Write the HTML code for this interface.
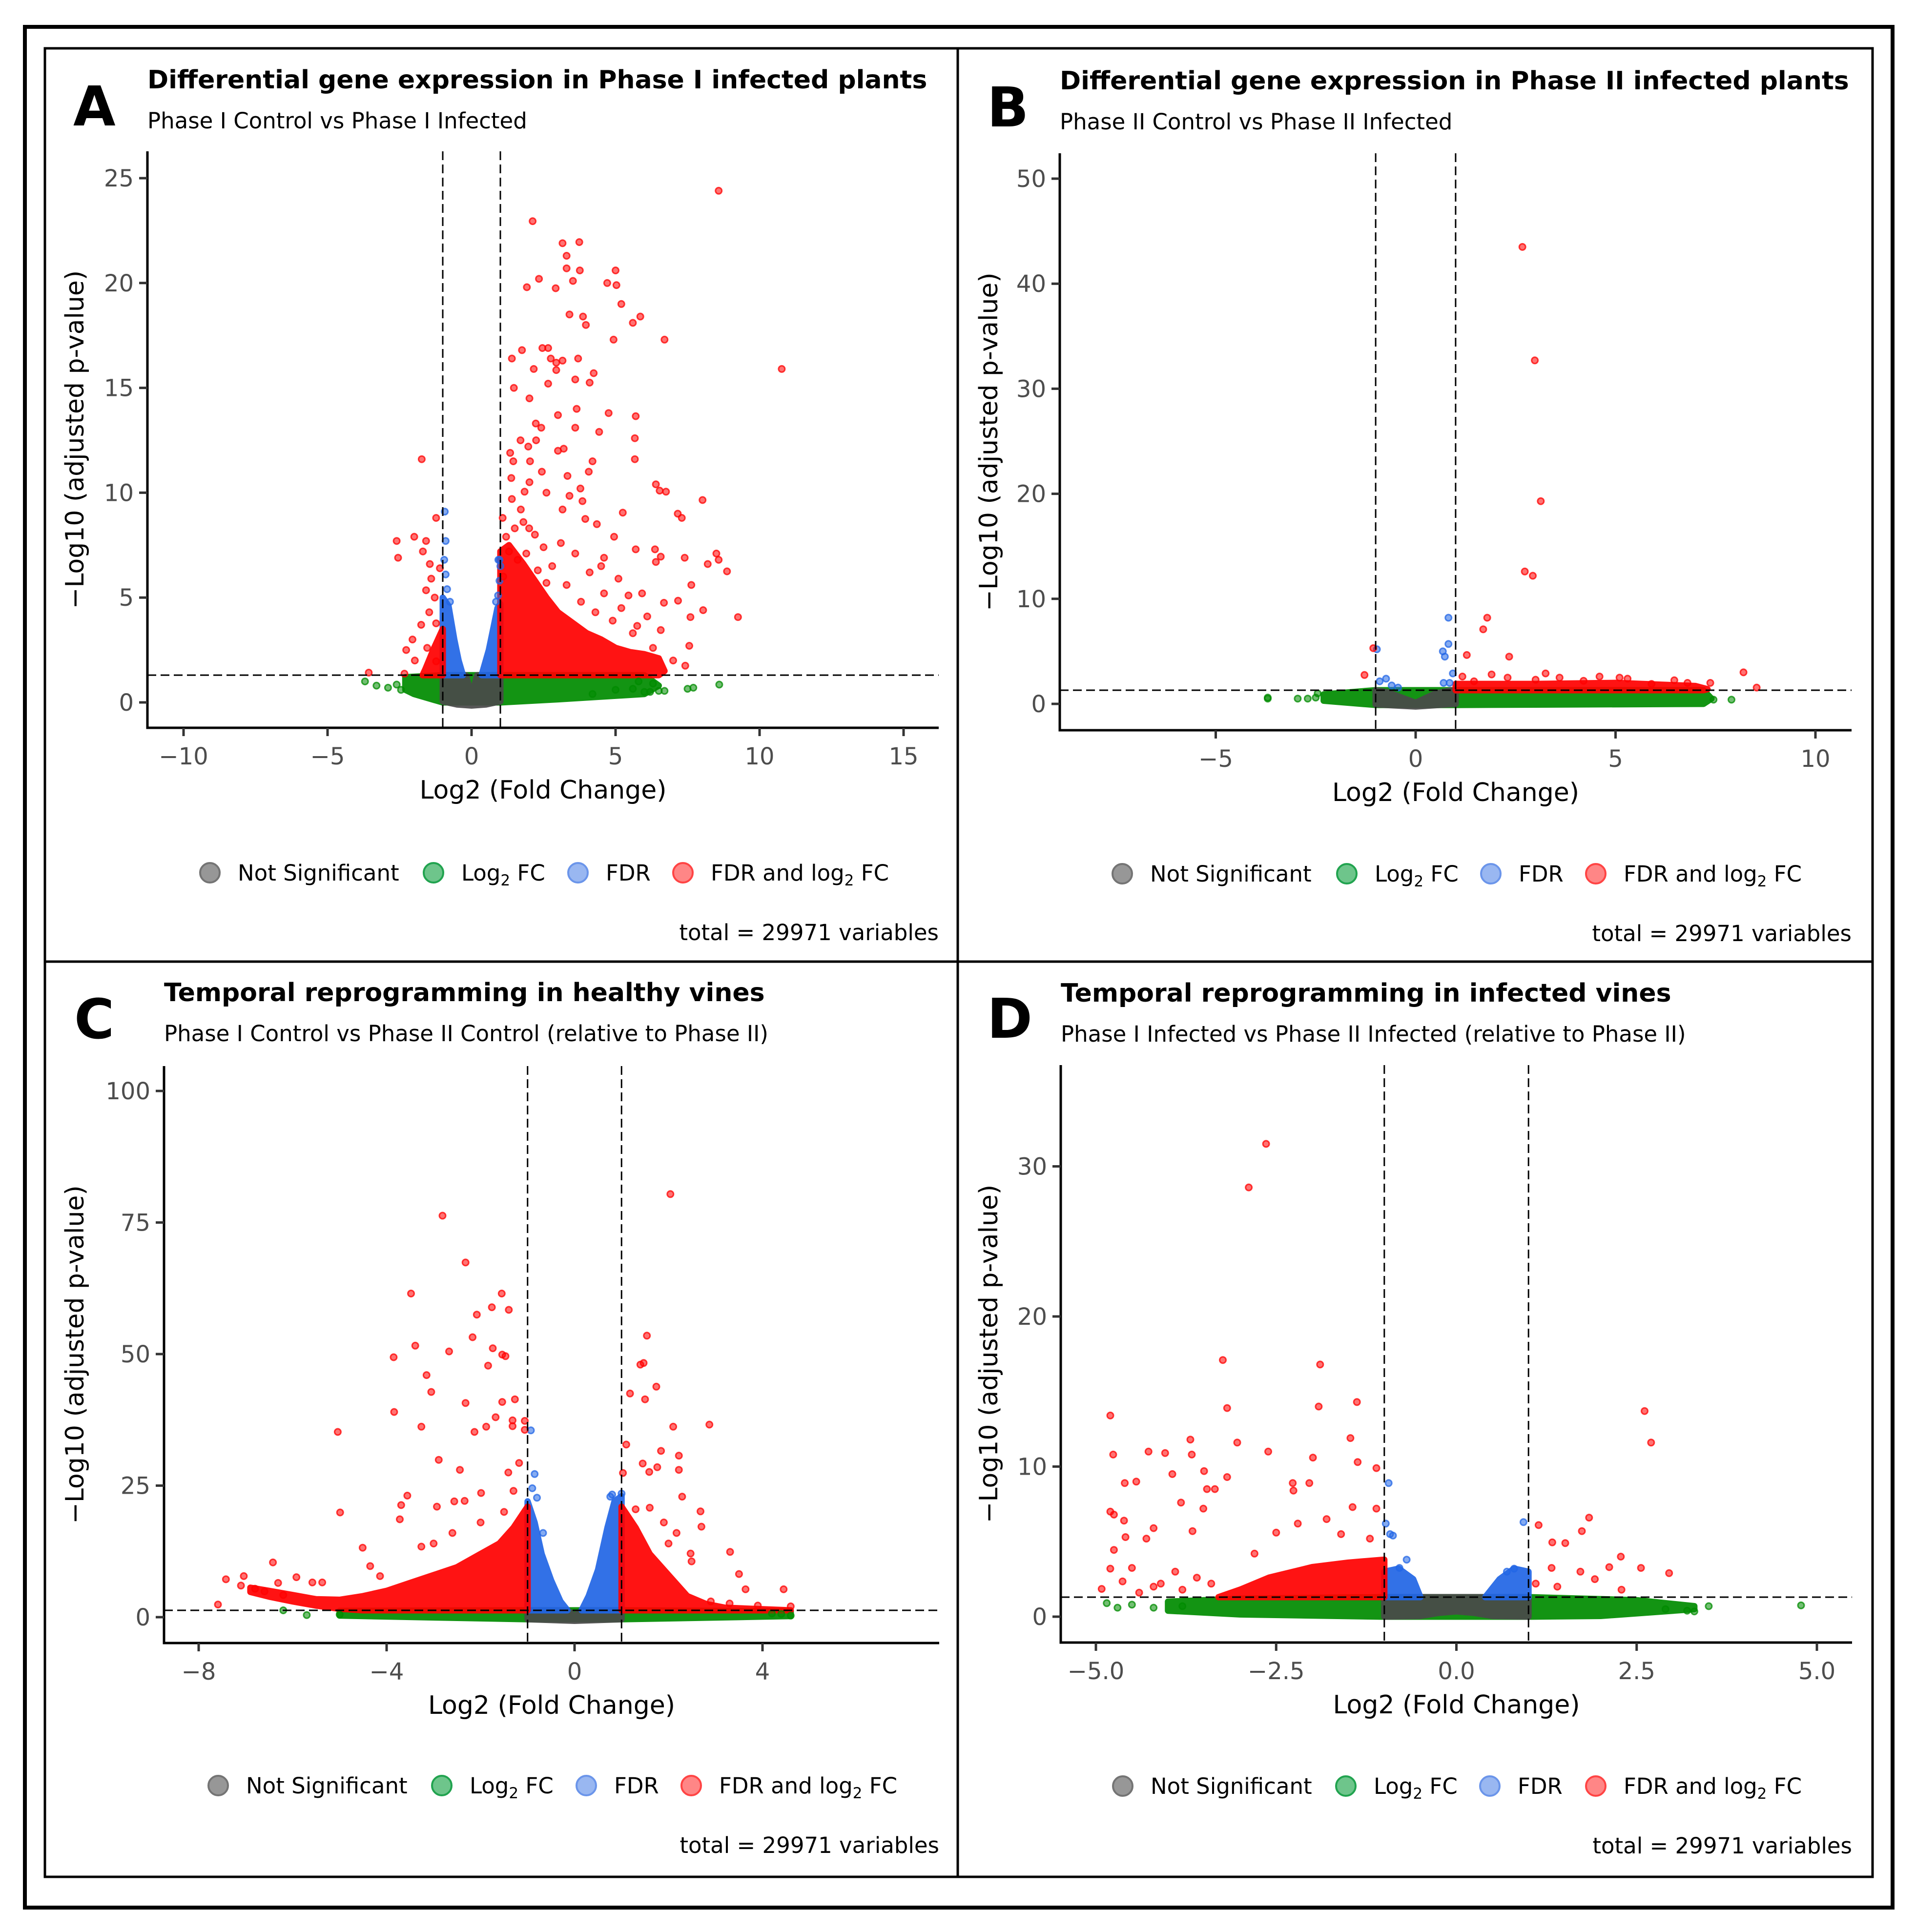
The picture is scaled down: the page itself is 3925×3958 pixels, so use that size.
<!DOCTYPE html>
<html><head><meta charset="utf-8">
<style>
html,body{margin:0;padding:0;background:#fff;}
svg{display:block;font-family:"DejaVu Sans","Liberation Sans",sans-serif;}
</style></head>
<body>
<svg id="fig" width="3925" height="3958" viewBox="0 0 3925 3958" xmlns="http://www.w3.org/2000/svg">
<rect x="0" y="0" width="3925" height="3958" fill="#fff"/>
<rect x="51" y="55" width="3826" height="3853" fill="none" stroke="#000" stroke-width="8"/>
<rect x="92" y="99" width="3744" height="3746" fill="none" stroke="#000" stroke-width="5"/>
<line x1="1962" y1="99" x2="1962" y2="3845" stroke="#000" stroke-width="5"/>
<line x1="92" y1="1970" x2="3836" y2="1970" stroke="#000" stroke-width="5"/>
<g id="root"></g>
</svg>
<script>
// ---------- DATA ----------
// Panel A
const aRed = [[8.58,24.4],[2.12,22.95],[3.16,21.9],[3.74,21.95],[3.3,21.3],[3.3,20.7],[3.76,20.6],[3.52,20.1],[2.34,20.2],[1.92,19.8],[2.92,19.75],[4.71,20],[5,20.6],[5.03,19.9],[5.2,19],[3.4,18.5],[3.87,18.4],[3.97,18],[5.6,18.1],[5.86,18.4],[4.93,17.3],[6.7,17.3],[10.77,15.9],[1.75,16.8],[1.4,16.4],[2.46,16.9],[2.66,16.9],[2.75,16.4],[2.94,16.2],[3.16,16.3],[3.7,16.4],[2.16,15.9],[2.94,15.85],[2.66,15.2],[3.6,15.4],[4.24,15.7],[4.1,15.25],[1.47,15],[2.01,14.5],[3.65,14],[4.76,13.8],[5.7,13.65],[2.23,13.3],[2.42,13.1],[3.6,13.1],[4.43,12.9],[3,13.7],[1.7,12.5],[2.24,12.5],[5.67,12.6],[1.34,11.9],[1.97,12.2],[3.2,12.1],[3,12],[-1.73,11.6],[5.67,11.6],[1.45,11.5],[2.03,11.5],[4.2,11.5],[2.44,11],[3.33,10.8],[4.07,11],[1.38,10.7],[2.01,10.5],[6.4,10.4],[6.53,10.1],[6.75,10.05],[8.02,9.65],[1.84,10.05],[2.6,10],[3.78,10.2],[1.4,9.7],[1.71,9.2],[3.4,9.85],[3.85,9.6],[3.16,9.2],[5.25,9.05],[7.16,9],[7.3,8.8],[-1.23,8.8],[1.08,8.8],[3.95,8.75],[6.57,6.95],[8.5,7.1],[8.58,6.8],[8.87,6.25],[8.2,6.6],[7.4,6.9],[9.25,4.07],[7.63,5.6],[7.6,4.07],[8.04,4.4],[7.56,2.7],[7.42,1.75],[-2.6,7.7],[-2.55,6.9],[-1.99,7.9],[-1.58,7.7],[-1.69,7.2],[-1.45,6.6],[-1.1,6.4],[-1.4,5.9],[-1.58,5.35],[-1.28,5],[-1.47,4.3],[-1.23,3.77],[-1.75,3.7],[-2.05,3],[-2.27,2.5],[-1.97,2],[-1.54,2.6],[-2.33,1.37],[-3.57,1.42],[-1.23,1.96],[4.35,8.5],[2.2,8],[4.95,7.9],[5.7,7.3],[6.37,7.3],[6.4,6.7],[4.6,6.9],[4.5,6.5],[5.1,5.9],[5.45,5.1],[5.92,5.2],[6.68,4.75],[7.17,4.85],[6.1,4.1],[6.57,3.45],[5.75,3.65],[6.3,2.6],[7,2],[3.1,7.6],[3.6,7.1],[2.8,6.5],[4.1,6.2],[3.3,5.6],[4.6,5.2],[5.2,4.5],[5.6,3.3],[4.9,3.9],[2.5,7.4],[1.5,8.3],[1.2,7.9],[1.3,7.2],[1.6,6.8],[1.9,7.1],[2.3,6.3],[2.6,5.7],[3.8,4.8],[4.3,4.3],[1.1,6.0],[1.8,8.6],[2.0,8.3]];
const aBlue = [[-0.93,9.1],[-0.9,7.7],[-0.95,6.8],[-0.9,6.1],[-0.85,5.4],[-0.75,4.8],[0.93,6.8],[0.97,6.8],[1,6.5],[0.97,5.8],[0.92,5.1],[0.85,4.8]];
const aGreen = [[-3.7,1.0],[-3.3,0.8],[-2.9,0.7],[-2.6,0.85],[-2.45,0.6],[6.2,0.5],[6.5,0.55],[6.7,0.55],[7.5,0.65],[7.7,0.7],[8.6,0.85],[4.2,0.4],[5,0.6],[5.6,0.65],[6,0.5],[6.3,0.9],[5.8,1.0]];
const aRedCloud = [[1,1.3],[1,7.2],[1.3,7.5],[1.8,6.6],[2.2,5.8],[2.6,5],[3,4.3],[3.5,3.8],[4,3.3],[4.5,3],[5,2.6],[5.5,2.4],[6,2.3],[6.5,2.1],[6.7,1.5],[6.5,1.3]];
const aRedCloudL = [[-1,1.3],[-1,3.5],[-1.3,2.6],[-1.6,1.6],[-1.7,1.3]];
const aBlueCloud = [[0.35,1.3],[0.6,2.5],[0.75,3.5],[0.9,4.5],[1,4.7],[1,1.3]];
const aBlueCloudL = [[-1,1.3],[-1,5],[-0.8,4.6],[-0.6,3],[-0.45,2],[-0.3,1.3]];
const aGreyCloud = [[-1,1.3],[-0.2,1.3],[0,0.35],[0.2,1.3],[1,1.3],[1,0.05],[0.5,-0.1],[0,-0.15],[-0.5,-0.1],[-1,0.05]];
const aGreenCloud = [[-2.3,1.2],[-1,1.3],[1,1.3],[6,1.3],[6.5,0.8],[6,0.4],[3,0.15],[1,0.0],[-1,0],[-2,0.4],[-2.3,0.6]];

// Panel B
const bRed = [[2.67,43.5],[2.98,32.7],[3.13,19.3],[2.73,12.6],[2.93,12.2],[1.79,8.2],[1.69,7.1],[1.28,4.65],[2.34,4.5],[-1.06,5.3],[-1.28,2.75],[8.2,3],[8.53,1.55],[7.37,2],[3.25,2.9],[3.6,2.5],[4.6,2.6],[5.1,2.5],[6.47,2.25],[6.8,2],[1.9,2.8],[2.3,2.5],[1.17,2.6],[1.46,2.15],[5.3,2.4],[4.2,2.2],[3.0,2.3],[5.9,1.9]];
const bBlue = [[0.82,8.2],[0.82,5.7],[0.68,5],[0.73,4.5],[-0.97,5.2],[0.93,2.9],[-0.74,2.4],[-0.9,2.15],[0.7,2],[0.85,2],[-0.6,1.75],[-0.44,1.55]];
const bGreen = [[-3.7,0.6],[-3.7,0.5],[-2.95,0.5],[-2.7,0.5],[-2.5,0.6],[-2.45,1.0],[7.45,0.4],[7.9,0.4]];
const bRedCloud = [[1,1.3],[1,1.9],[3,1.9],[5,2.0],[7,1.7],[7.3,1.4],[7.2,1.3]];
const bGreyCloud = [[-1,1.3],[-0.7,1.1],[0,0.1],[0.5,1.0],[0.9,1.3],[1,1.3],[1,0],[0,-0.25],[-1,-0.05]];
const bGreenCloud = [[-2.3,0.9],[-1,1.3],[7.2,1.3],[7.4,0.5],[7.2,0.0],[1,-0.1],[-1,-0.1],[-2.3,0.3]];

// Panel C
const cRed = [[2.04,80.4],[-2.81,76.3],[-2.32,67.4],[-3.48,61.5],[-1.55,61.5],[-1.76,58.9],[-1.4,58.4],[-2.08,57.5],[1.54,53.5],[-2.17,53.2],[-3.39,51.6],[-2.67,50.5],[-1.74,51.1],[-1.54,49.9],[-1.47,49.6],[-3.85,49.4],[-1.84,47.8],[1.4,48],[1.47,48.3],[-3.15,46],[1.74,43.8],[-3.05,42.8],[1.18,42.5],[1.5,41.4],[-2.32,40.7],[-1.54,40.9],[-1.27,41.4],[-3.84,39],[-1.68,38],[-1.32,37.4],[-1.06,37.3],[2.1,36.2],[2.87,36.6],[-3.26,36.2],[-1.88,36.2],[-1.32,36.3],[-2.13,35.2],[-5.04,35.2],[-1.06,35.6],[1.1,32.8],[1.84,31.6],[2.22,30.7],[-2.89,29.9],[1.45,29.2],[1.76,28.5],[2.22,28],[1.59,27.6],[-2.44,28],[-1.18,29.3],[-1.41,27.5],[1.03,27.4],[-4.99,19.9],[2.29,22.9],[2.68,20.1],[2.7,17.2],[2.17,16],[3.31,12.4],[3.5,8.2],[3.64,5.3],[4.45,5.3],[4.6,2.05],[2.47,12.1],[2.49,10.6],[-3.56,23.1],[-3.69,21.3],[-4.51,13.2],[-4.35,9.7],[-4.14,7.8],[-6.42,10.4],[-5.92,7.6],[-5.58,6.6],[-5.37,6.6],[-6.31,6.5],[-7.42,7.2],[-7.04,7.8],[-7.1,6],[-7.59,2.4],[-3.72,18.6],[-3.26,13.4],[-2.93,21],[-1.99,23.6],[-2.56,22],[-2.34,22.1],[-6.8,5.4],[-6.6,4.9],[-6.2,4.2],[2.9,3],[3.3,2.6],[3.9,2.2],[-2.0,18],[-1.5,20],[-2.6,16],[-3.0,14],[-1.3,24],[1.3,20.5],[1.6,20.8],[1.9,18],[2.0,14]];
const cBlue = [[-0.93,35.5],[-0.85,27.2],[-0.8,22.7],[0.8,23.3],[0.76,22.9],[1.0,23.5],[-0.67,16],[-0.9,24.5]];
const cGreen = [[-6.2,1.3],[-5.7,0.4],[4.4,0.6],[4.6,0.3],[-5.0,0.5],[4.2,0.7]];
const cRedCloudL = [[-1,1.3],[-1,21],[-1.3,17],[-1.6,14],[-2,12],[-2.5,9.5],[-3,8],[-3.5,6.5],[-4,5],[-4.5,4],[-5,3.3],[-5.5,3.4],[-6,4.2],[-6.5,5],[-6.9,5.6],[-6.9,4.8],[-6.5,3.9],[-6,3],[-5.5,2.2],[-5,1.6],[-4.5,1.3]];
const cRedCloudR = [[1,1.3],[1,21],[1.3,17],[1.6,12],[2,8],[2.4,4],[2.8,2.5],[3.2,1.8],[4,1.5],[4.6,1.3]];
const cBlueCloudL = [[-1,1.3],[-1,22],[-0.85,18],[-0.7,12],[-0.5,7],[-0.3,3],[-0.15,1.3]];
const cBlueCloudR = [[0.15,1.3],[0.3,4],[0.5,9],[0.7,17],[0.85,22],[1,23],[1,1.3]];
const cGreyCloud = [[-1,1.3],[-0.15,1.3],[0,0.2],[0.15,1.3],[1,1.3],[1,-0.4],[0,-0.7],[-1,-0.4]];
const cGreenCloud = [[-5,1.2],[-1,1.3],[1,1.3],[4.6,1.1],[4.6,0.2],[1,-0.4],[-1,-0.4],[-5,0.3]];

// Panel D
const dRed = [[-2.64,31.5],[-2.88,28.6],[-3.24,17.1],[-1.89,16.8],[-1.91,14],[-1.38,14.3],[-3.18,13.9],[-4.8,13.4],[2.61,13.7],[2.7,11.6],[-3.69,11.8],[-3.04,11.6],[-1.47,11.9],[-4.27,11],[-4.04,10.9],[-3.67,10.8],[-4.76,10.8],[-2.61,11],[-1.99,10.6],[-1.37,10.3],[-1.11,9.9],[-3.94,9.5],[-3.5,9.7],[-3.18,9.3],[-4.6,8.9],[-4.44,9],[-2.27,8.9],[-2.04,8.9],[-2.26,8.4],[-3.46,8.5],[-3.35,8.5],[-3.82,7.6],[-3.51,7.2],[-1.44,7.3],[-1.11,7.2],[-4.8,7],[-4.75,6.8],[-4.61,6.4],[-4.2,5.9],[-3.66,5.7],[-4.59,5.3],[-4.3,5.2],[1.74,5.7],[1.84,6.6],[1.14,6.1],[1.33,4.95],[1.51,4.9],[2.28,4],[2.12,3.3],[2.56,3.25],[2.95,2.9],[2.29,1.8],[1.92,2.5],[1.72,3],[1.32,3.25],[-4.75,4.45],[-4.8,3.2],[-4.5,3.25],[-4.92,1.85],[-4.63,2.35],[-2.5,5.6],[-2.2,6.2],[-1.8,6.5],[-1.6,5.5],[-2.8,4.2],[-3.9,3.0],[-4.1,2.2],[-3.6,2.6],[-1.2,5.2],[1.1,2.2],[1.4,2.0],[-4.2,2.0],[-3.8,1.8],[-3.4,2.2],[-4.4,1.6]];
const dBlue = [[-0.94,8.9],[-0.98,6.2],[-0.92,5.5],[-0.88,5.4],[0.93,6.3],[-0.69,3.8],[-0.79,3.25],[0.8,3.2],[0.7,3.0]];
const dGreen = [[4.78,0.75],[3.5,0.7],[3.3,0.35],[3.2,0.4],[-4.85,0.9],[-4.7,0.6],[2.9,0.5],[-4.5,0.8],[-4.2,0.6],[-3.8,0.7]];
const dRedCloud = [[-3.3,1.3],[-3,1.8],[-2.6,2.6],[-2,3.3],[-1.5,3.6],[-1,3.8],[-1,1.3]];
const dBlueCloudL = [[-1,1.3],[-1,3],[-0.8,3.2],[-0.6,2.5],[-0.5,1.3]];
const dBlueCloudR = [[0.4,1.3],[0.6,2.5],[0.8,3.2],[1,3],[1,1.3]];
const dGreyCloud = [[-1,1.3],[1,1.3],[1,0],[0.5,0.05],[0.25,0.25],[0,0.35],[-0.25,0.25],[-0.5,0.05],[-1,0]];
const dGreenCloud = [[-4.0,1.0],[-3,1.2],[-1,1.3],[1,1.3],[2.5,1.1],[3.3,0.7],[3.3,0.5],[2,0.05],[1,0],[-1,0],[-3,0.15],[-4.0,0.4]];

// tick arrays
const aXTicks = [-10,-5,0,5,10,15];
const aYTicks = [0,5,10,15,20,25];
const bXTicks = [-5,0,5,10];
const bYTicks = [0,10,20,30,40,50];
const cXTicks = [-8,-4,0,4];
const cYTicks = [0,25,50,75,100];
const dXTicks = [-5.0,-2.5,0.0,2.5,5.0];
const dYTicks = [0,10,20,30];
const dXTickLabels = ["\u22125.0","\u22122.5","0.0","2.5","5.0"];

// ---------- RENDER ----------
const NS = "http://www.w3.org/2000/svg";
const root = document.getElementById('root');
const COL = {grey:'#4a4a4a', green:'#008b00', blue:'#2166e6', red:'#ff0000'};
function mk(tag, attrs, parent){const e=document.createElementNS(NS,tag);for(const k in attrs)e.setAttribute(k,attrs[k]);(parent||root).appendChild(e);return e;}
function fmt(v){return v<0?'\u2212'+Math.abs(v):String(v);}

const panels = [
 {id:'a', letter:'A', title:'Differential gene expression in Phase I infected plants', sub:'Phase I Control vs Phase I Infected',
  ax:302, axR:1923, axTop:310, axB:1491, x0:966, xu:59.0, y0:1439, yu:42.96, panelTop:99, legOff:[338,796,1092,1307], letterX:150, letterY:217, ytX:153,
  xt:aXTicks, yt:aYTicks, xl:null,
  clouds:[[aGreenCloud,'green'],[aGreyCloud,'grey'],[aBlueCloud,'blue'],[aBlueCloudL,'blue'],[aRedCloud,'red'],[aRedCloudL,'red']],
  pts:[[aGreen,'green'],[aBlue,'blue'],[aRed,'red']]},
 {id:'b', letter:'B', title:'Differential gene expression in Phase II infected plants', sub:'Phase II Control vs Phase II Infected',
  ax:2171, axR:3793, axTop:314, axB:1496, x0:2900, xu:81.9, y0:1442, yu:21.52, panelTop:101, legOff:[337,797,1092,1307], letterX:2022, letterY:219, ytX:2025,
  xt:bXTicks, yt:bYTicks, xl:null,
  clouds:[[bGreenCloud,'green'],[bGreyCloud,'grey'],[bRedCloud,'red']],
  pts:[[bGreen,'green'],[bBlue,'blue'],[bRed,'red']]},
 {id:'c', letter:'C', title:'Temporal reprogramming in healthy vines', sub:'Phase I Control vs Phase II Control (relative to Phase II)',
  ax:336, axR:1924, axTop:2184, axB:3366, x0:1177, xu:96.25, y0:3313, yu:10.78, panelTop:1969, legOff:[355,813,1109,1324], letterX:152, letterY:2087, ytX:153,
  xt:cXTicks, yt:cYTicks, xl:null,
  clouds:[[cGreenCloud,'green'],[cGreyCloud,'grey'],[cBlueCloudL,'blue'],[cBlueCloudR,'blue'],[cRedCloudL,'red'],[cRedCloudR,'red']],
  pts:[[cGreen,'green'],[cBlue,'blue'],[cRed,'red']]},
 {id:'d', letter:'D', title:'Temporal reprogramming in infected vines', sub:'Phase I Infected vs Phase II Infected (relative to Phase II)',
  ax:2173, axR:3794, axTop:2182, axB:3365, x0:2983.5, xu:147.7, y0:3312, yu:30.75, panelTop:1970, legOff:[338,795,1090,1307], letterX:2022, letterY:2086, ytX:2025,
  xt:dXTicks, yt:dYTicks, xl:dXTickLabels,
  clouds:[[dGreenCloud,'green'],[dGreyCloud,'grey'],[dBlueCloudL,'blue'],[dBlueCloudR,'blue'],[dRedCloud,'red']],
  pts:[[dGreen,'green'],[dBlue,'blue'],[dRed,'red']]}
];

panels.forEach(p=>{
  const X = v => p.x0 + v*p.xu;
  const Y = v => p.y0 - v*p.yu;
  const g = mk('g',{});
  
  

  let t = mk('text',{x:p.letterX, y:p.letterY+40, 'font-size':112, 'font-weight':'bold', fill:'#000'}, g);
  t.textContent = p.letter;
  
  

  const ty = p.panelTop + 64;
  t = mk('text',{x:p.ax, y:ty+18, 'font-size':52, 'font-weight':'bold', fill:'#000'}, g);
  t.textContent = p.title;
  
  
  t = mk('text',{x:p.ax, y:ty+100, 'font-size':45, fill:'#000'}, g);
  t.textContent = p.sub;
  
  

  const clipId = 'clip'+p.id;
  const cp = mk('clipPath',{id:clipId}, g);
  mk('rect',{x:p.ax, y:p.axTop, width:p.axR-p.ax, height:p.axB-p.axTop}, cp);
  const plot = mk('g',{'clip-path':'url(#'+clipId+')'}, g);
  
  

  p.clouds.forEach(([arr,c])=>{
    const pts = arr.map(d=>X(d[0]).toFixed(1)+','+Y(d[1]).toFixed(1)).join(' ');
    const poly = mk('polygon',{points:pts, fill:COL[c], stroke:COL[c], 'stroke-width':13, 'stroke-linejoin':'round', opacity:0.92}, plot);
    
    
  });
  p.pts.forEach(([arr,c])=>{
    arr.forEach(d=>{
      const ci = mk('circle',{cx:X(d[0]).toFixed(1), cy:Y(d[1]).toFixed(1), r:6.5, fill:COL[c], 'fill-opacity':0.55, stroke:COL[c], 'stroke-opacity':0.75, 'stroke-width':3}, plot);
      
      
    });
  });

  [-1,1].forEach(v=>{
    const l = mk('line',{x1:X(v), x2:X(v), y1:p.axTop, y2:p.axB, stroke:'#000', 'stroke-width':3, 'stroke-dasharray':'18,9'}, g);
    
    
  });
  let hl = mk('line',{x1:p.ax, x2:p.axR, y1:Y(1.3), y2:Y(1.3), stroke:'#000', 'stroke-width':3, 'stroke-dasharray':'18,9'}, g);
  
  

  let al = mk('line',{x1:p.ax, x2:p.ax, y1:p.axTop, y2:p.axB+2.5, stroke:'#000', 'stroke-width':5}, g);
  
  
  al = mk('line',{x1:p.ax-2.5, x2:p.axR, y1:p.axB, y2:p.axB, stroke:'#000', 'stroke-width':5}, g);
  
  

  p.xt.forEach((v,i)=>{
    const tk = mk('line',{x1:X(v), x2:X(v), y1:p.axB, y2:p.axB+17, stroke:'#333', 'stroke-width':5}, g);
    
    
    const tl = mk('text',{x:X(v), y:p.axB+75, 'font-size':48, fill:'#4d4d4d', 'text-anchor':'middle'}, g);
    tl.textContent = p.xl ? p.xl[i] : fmt(v);
    
    
  });
  p.yt.forEach(v=>{
    const tk = mk('line',{x1:p.ax-17, x2:p.ax, y1:Y(v), y2:Y(v), stroke:'#333', 'stroke-width':5}, g);
    
    
    const tl = mk('text',{x:p.ax-28, y:Y(v)+17, 'font-size':48, fill:'#4d4d4d', 'text-anchor':'end'}, g);
    tl.textContent = fmt(v);
    
    
  });

  const xt = mk('text',{x:(p.ax+p.axR)/2, y:p.axB+145, 'font-size':52, fill:'#000', 'text-anchor':'middle'}, g);
  xt.textContent = 'Log2 (Fold Change)';
  
  
  const ymid = (p.axTop+p.axB)/2;
  const yt = mk('text',{x:p.ytX, y:ymid, 'font-size':52, fill:'#000', 'text-anchor':'middle', transform:'rotate(-90 '+p.ytX+' '+ymid+')', dy:18}, g);
  yt.textContent = '\u2212Log10 (adjusted p-value)';
  
  

  const panelLeft = p.id==='a'||p.id==='c' ? 92 : 1962;
  const ly = p.panelTop + 1689;
  const leg = mk('g',{}, g);
  
  
  const legCols = [['#8c8c8c','#666'],['#5fbf7f','#0a9a3c'],['#8fb0f0','#5b8ae8'],['#ff7a7a','#ff3030']];
  const legTexts = [['Not Significant'],['Log','2',' FC'],['FDR'],['FDR and log','2',' FC']];
  legCols.forEach((c,i)=>{
    const cx = panelLeft + p.legOff[i];
    const e = mk('g',{}, leg);
    
    
    mk('circle',{cx:cx, cy:ly, r:20, fill:c[0], stroke:c[1], 'stroke-width':4, opacity:0.9}, e);
    const tx = mk('text',{x:cx+57, y:ly+16, 'font-size':45, fill:'#000'}, e);
    const parts = legTexts[i];
    if(parts.length===1){ tx.textContent = parts[0]; }
    else {
      const s1 = mk('tspan',{}, tx); s1.textContent = parts[0];
      const s2 = mk('tspan',{'font-size':31, dy:10}, tx); s2.textContent = parts[1];
      const s3 = mk('tspan',{dy:-10}, tx); s3.textContent = parts[2];
    }
  });
  const tot = mk('text',{x:p.axR, y:p.panelTop+1827, 'font-size':45, fill:'#000', 'text-anchor':'end'}, g);
  tot.textContent = 'total = 29971 variables';
  
  
});
</script>
</body></html>
